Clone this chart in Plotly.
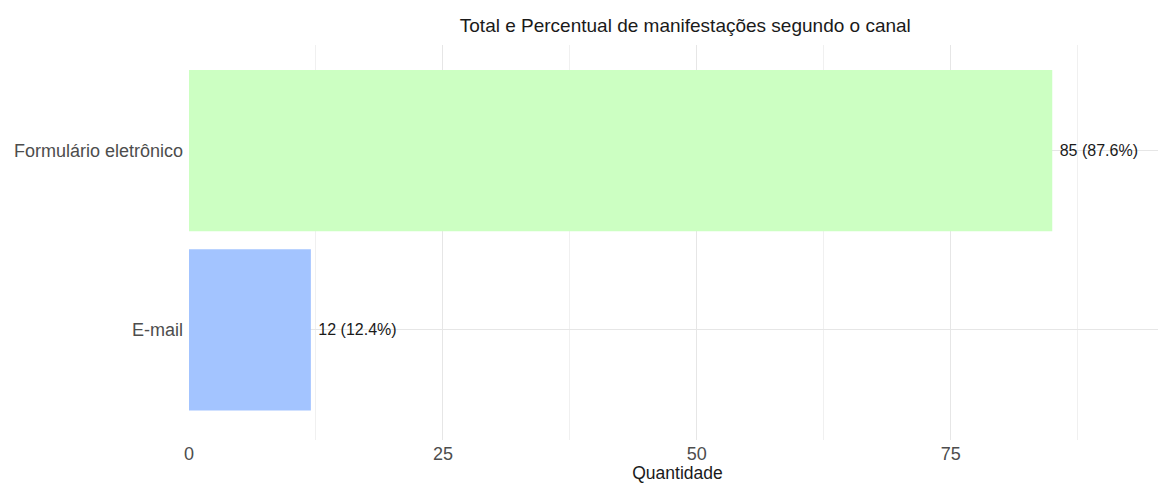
import plotly.graph_objects as go

# dados
canais = ['E-mail', 'Formulário eletrônico']
quantidade = [12, 85]
percentual = [12.4, 87.6]
cores = ['#A3C4FF', '#CCFFC2']

rotulos = [f'\u00a0{q} ({p}%)' for q, p in zip(quantidade, percentual)]

# a página tem margem de 8px no body; compensa na figura
fig = go.Figure(
    data=[
        go.Bar(
            y=canais,
            x=quantidade,
            orientation='h',
            marker=dict(color=cores, line=dict(width=0)),
            width=0.9,
            text=rotulos,
            textposition='outside',
            textfont=dict(family='Liberation Sans, Arial', size=16, color='#1a1a1a'),
            cliponaxis=False,
            showlegend=False,
        )
    ]
)

fig.update_layout(
    width=1158,
    height=475,
    margin=dict(l=181, r=0, t=37, b=43),
    paper_bgcolor='white',
    plot_bgcolor='white',
    font=dict(family='Liberation Sans, Arial', size=18, color='#4d4d4d'),
    title=dict(
        text='Total e Percentual de manifestações segundo o canal',
        x=0.508, xref='paper', xanchor='center',
        y=0.964, yref='container', yanchor='middle',
        font=dict(size=19, color='#1a1a1a'),
    ),
    xaxis=dict(
        range=[0, 96.2],
        tickvals=[0, 25, 50, 75],
        showgrid=True,
        gridcolor='#e6e6e6',
        gridwidth=1,
        minor=dict(dtick=12.5, tick0=0, showgrid=True, gridcolor='#f0f0f0', gridwidth=1),
        zeroline=False,
        showline=False,
        ticks='',
        ticklabelstandoff=1,
        tickfont=dict(size=18, color='#4d4d4d'),
        title=dict(text='Quantidade', font=dict(size=17.5, color='#1a1a1a'), standoff=2),
    ),
    yaxis=dict(
        range=[-0.615, 1.59],
        showgrid=True,
        gridcolor='#e6e6e6',
        gridwidth=1,
        zeroline=False,
        showline=False,
        ticks='',
        ticklabelstandoff=5,
        tickfont=dict(size=18, color='#4d4d4d'),
    ),
    bargap=0.1,
)

fig.write_html('out.html')
